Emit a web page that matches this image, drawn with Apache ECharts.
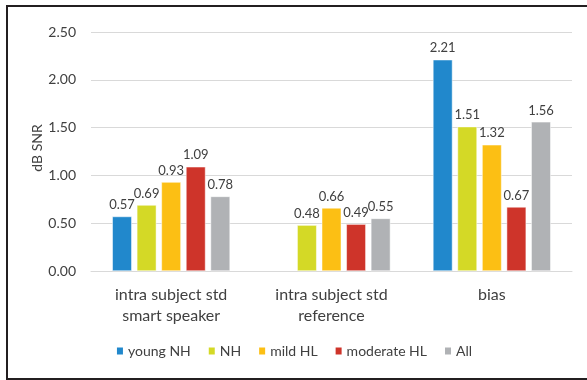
<!DOCTYPE html>
<html>
<head>
<meta charset="utf-8">
<script src="https://cdn.jsdelivr.net/npm/echarts@6/dist/echarts.min.js"></script>
<style>
  html, body { margin: 0; padding: 0; background: #fff; }
  #chart { width: 587px; height: 380px; }
</style>
</head>
<body>
<div id="chart"></div>
<script>
// Measurement groups on the x axis
const categories = ['intra subject std\nsmart speaker', 'intra subject std\nreference', 'bias'];

// dB SNR per listener group (null = not measured)
const youngNH    = [0.57, null, 2.21];
const nh         = [0.69, 0.48, 1.51];
const mildHL     = [0.93, 0.66, 1.32];
const moderateHL = [1.09, 0.49, 0.67];
const allGroups  = [0.78, 0.55, 1.56];

const yTicks = { min: 0, max: 2.5, interval: 0.5 };
const yTitle = 'dB SNR';

const seriesDefs = [
  { name: 'young NH',    data: youngNH,    color: '#2188cc' },
  { name: 'NH',          data: nh,         color: '#d4d926' },
  { name: 'mild HL',     data: mildHL,     color: '#fcbf14' },
  { name: 'moderate HL', data: moderateHL, color: '#ce342a' },
  { name: 'All',         data: allGroups,  color: '#b0b2b5' }
];

const FONT = 'Lato, "Open Sans", sans-serif';
const TEXT = '#404040';

const chart = echarts.init(document.getElementById('chart'), null, { renderer: 'canvas' });

chart.setOption({
  animation: false,
  backgroundColor: '#fff',
  textStyle: { fontFamily: FONT, color: TEXT },
  grid: { left: 91, right: 15, top: 32, bottom: 109, containLabel: false },
  legend: {
    bottom: 17,
    left: 'center',
    itemWidth: 8,
    itemHeight: 9,
    itemGap: 16,
    icon: 'rect',
    textStyle: { fontFamily: FONT, fontSize: 14, color: TEXT, padding: [0, 0, 0, -1] },
    data: seriesDefs.map(s => s.name)
  },
  xAxis: {
    type: 'category',
    data: categories,
    axisLine: { show: true, lineStyle: { color: '#d9d9d9', width: 1 } },
    axisTick: { show: false },
    axisLabel: { fontFamily: FONT, fontSize: 16, color: TEXT, lineHeight: 21, margin: 13 }
  },
  yAxis: {
    type: 'value',
    min: yTicks.min,
    max: yTicks.max,
    interval: yTicks.interval,
    axisLine: { show: false },
    axisTick: { show: false },
    axisLabel: {
      fontFamily: FONT, fontSize: 14, color: TEXT, margin: 15,
      formatter: v => v.toFixed(2)
    },
    splitLine: { lineStyle: { color: '#d9d9d9', width: 1 } }
  },
  series: seriesDefs.map(s => ({
    name: s.name,
    type: 'bar',
    data: s.data,
    barWidth: 19.5,
    barGap: '26%',
    itemStyle: { color: s.color, borderColor: '#fff', borderWidth: 0.5 },
    label: {
      show: true,
      position: 'top',
      distance: 5,
      fontFamily: FONT,
      fontSize: 13,
      color: TEXT,
      formatter: p => (p.value == null ? '' : Number(p.value).toFixed(2))
    }
  })),
  graphic: [
    // vertical axis title
    {
      type: 'text', silent: true, x: 37, y: 148, rotation: Math.PI / 2,
      style: { text: yTitle, fontFamily: FONT, fontSize: 14, fill: TEXT, align: 'center', verticalAlign: 'middle' }
    },
    // frame on the left, top and bottom edges
    { type: 'line', silent: true, shape: { x1: 7, y1: 6, x2: 587, y2: 6 }, style: { stroke: '#231f20', lineWidth: 2 } },
    { type: 'line', silent: true, shape: { x1: 7, y1: 5, x2: 7, y2: 380 }, style: { stroke: '#231f20', lineWidth: 2 } },
    { type: 'line', silent: true, shape: { x1: 6, y1: 379, x2: 587, y2: 379 }, style: { stroke: '#231f20', lineWidth: 2 } }
  ]
});
</script>
</body>
</html>
